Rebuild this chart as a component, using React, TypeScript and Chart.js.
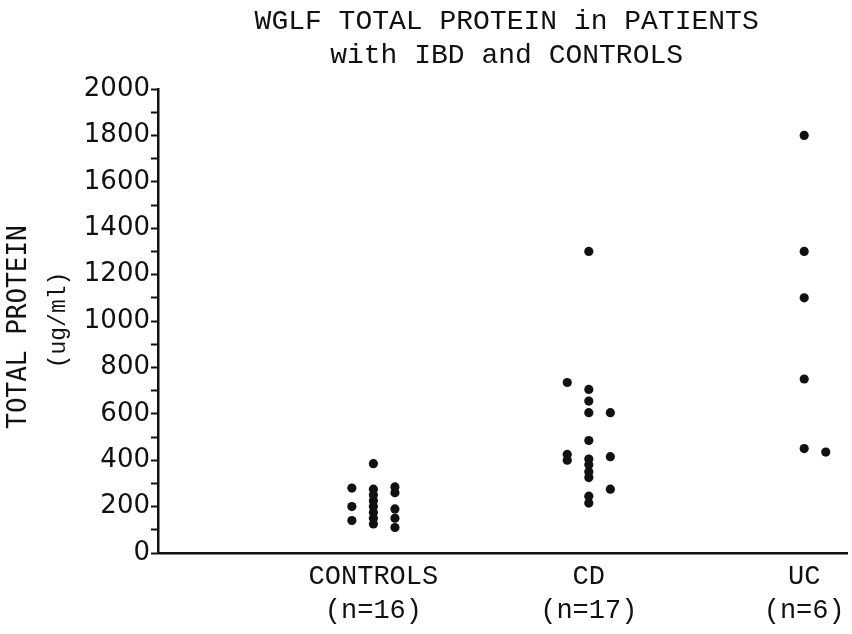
import React, { useEffect, useRef } from "react";
import { Chart, registerables } from "chart.js";

Chart.register(...registerables);

// ---- data ----
const TITLE_LINES = ["WGLF TOTAL PROTEIN in PATIENTS", "with IBD and CONTROLS"];
const Y_TITLE_LINES = ["TOTAL PROTEIN", "(ug/ml)"];
const CATEGORIES = [
  ["CONTROLS", "(n=16)"],
  ["CD", "(n=17)"],
  ["UC", "(n=6)"],
];
const CATEGORY_X = [1, 2, 3];

// values per column (left / middle / right of each group)
const CONTROLS_LEFT = [280, 200, 140];
const CONTROLS_MID = [385, 275, 250, 225, 200, 175, 150, 125];
const CONTROLS_RIGHT = [285, 260, 190, 150, 110];
const CD_LEFT = [735, 425, 400];
const CD_MID = [1300, 705, 655, 605, 485, 405, 380, 350, 325, 245, 215];
const CD_RIGHT = [605, 415, 275];
const UC_MID = [1800, 1300, 1100, 750, 450];
const UC_RIGHT = [435];

const Y_MIN = 0;
const Y_MAX = 2000;
const Y_STEP = 100;
const Y_LABEL_STEP = 200;

const COL_OFFSET = 0.1;

function column(values: number[], x: number) {
  return values.map((y) => ({ x, y }));
}

const POINTS = [
  ...column(CONTROLS_LEFT, CATEGORY_X[0] - COL_OFFSET),
  ...column(CONTROLS_MID, CATEGORY_X[0]),
  ...column(CONTROLS_RIGHT, CATEGORY_X[0] + COL_OFFSET),
  ...column(CD_LEFT, CATEGORY_X[1] - COL_OFFSET),
  ...column(CD_MID, CATEGORY_X[1]),
  ...column(CD_RIGHT, CATEGORY_X[1] + COL_OFFSET),
  ...column(UC_MID, CATEGORY_X[2]),
  ...column(UC_RIGHT, CATEGORY_X[2] + COL_OFFSET),
];

const INK = "#111111";

const textPlugin = {
  id: "customTexts",
  afterDraw(chart: any) {
    const { ctx, chartArea } = chart;
    ctx.save();
    ctx.fillStyle = INK;
    ctx.textAlign = "center";
    ctx.textBaseline = "middle";
    // chart title
    ctx.font = "28px 'Liberation Mono'";
    const cx = (chartArea.left + chartArea.right) / 2 + 4;
    ctx.fillText(TITLE_LINES[0], cx, 22);
    ctx.fillText(TITLE_LINES[1], cx, 56);
    // y-axis title (rotated)
    ctx.save();
    ctx.translate(19, 327);
    ctx.rotate(-Math.PI / 2);
    ctx.font = "26px 'DejaVu Sans Mono'";
    ctx.fillText(Y_TITLE_LINES[0], 0, 0);
    ctx.restore();
    ctx.save();
    ctx.translate(59, 320);
    ctx.rotate(-Math.PI / 2);
    ctx.font = "23px 'Liberation Mono'";
    ctx.fillText(Y_TITLE_LINES[1], 0, 0);
    ctx.restore();
    ctx.restore();
  },
};

export default function App() {
  const ref = useRef<HTMLCanvasElement>(null);

  useEffect(() => {
    if (!ref.current) return;
    const chart = new Chart(ref.current, {
      type: "scatter",
      data: {
        datasets: [
          {
            data: POINTS,
            pointRadius: 4.6,
            pointHoverRadius: 4.6,
            pointBackgroundColor: INK,
            pointBorderColor: INK,
            pointBorderWidth: 0,
          },
        ],
      },
      options: {
        animation: false,
        responsive: false,
        maintainAspectRatio: false,
        layout: { padding: { top: 89, left: 0, right: 0, bottom: 0 } },
        plugins: {
          legend: { display: false },
          title: { display: false },
          tooltip: { enabled: false },
        },
        scales: {
          x: {
            type: "linear",
            min: 0,
            max: 3.2,
            afterBuildTicks: (scale: any) => {
              scale.ticks = CATEGORY_X.map((v) => ({ value: v }));
            },
            afterFit: (scale: any) => {
              scale.height = 81;
            },
            grid: { display: true, drawOnChartArea: false, drawTicks: false, color: INK },
            border: { display: true, color: INK, width: 2.5 },
            ticks: {
              autoSkip: false,
              maxRotation: 0,
              padding: 7,
              color: INK,
              font: { family: "'Liberation Mono'", size: 27, lineHeight: 34 / 27 },
              callback: (v: any) => {
                const i = CATEGORY_X.indexOf(Number(v));
                return i >= 0 ? CATEGORIES[i] : "";
              },
            },
          },
          y: {
            type: "linear",
            min: Y_MIN,
            max: Y_MAX,
            afterFit: (scale: any) => {
              scale.width = 158;
            },
            grid: {
              display: true,
              drawOnChartArea: false,
              drawTicks: true,
              tickLength: 7,
              tickWidth: 2,
              tickColor: INK,
            },
            border: { display: true, color: INK, width: 2.5 },
            ticks: {
              stepSize: Y_STEP,
              autoSkip: false,
              padding: 1,
              color: INK,
              font: { family: "'DejaVu Sans'", size: 26 },
              callback: (v: any) => (Number(v) % Y_LABEL_STEP === 0 ? String(v) : ""),
            },
          },
        },
      },
      plugins: [textPlugin],
    });
    return () => chart.destroy();
  }, []);

  return (
    <div style={{ position: "absolute", left: 0, top: 0, width: 852, height: 634, background: "#fff" }}>
      <canvas ref={ref} width={852} height={634} style={{ width: 852, height: 634 }} />
    </div>
  );
}
